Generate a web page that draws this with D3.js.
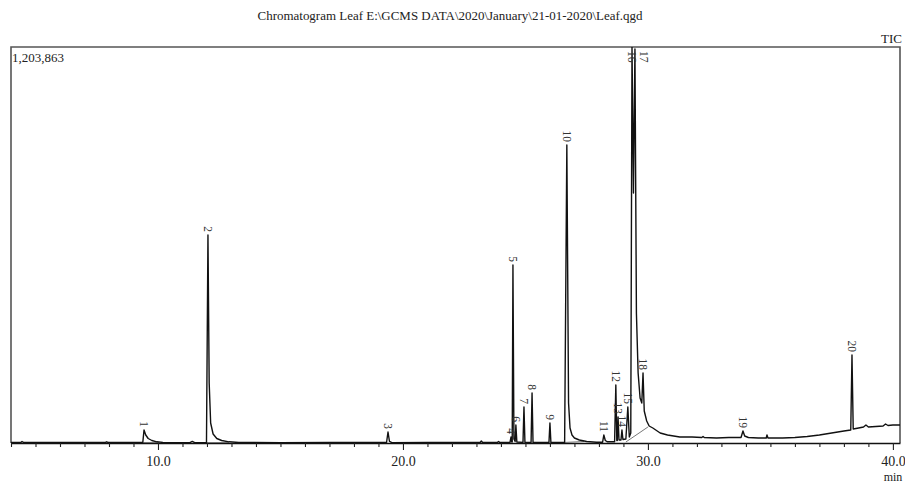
<!DOCTYPE html>
<html>
<head>
<meta charset="utf-8">
<script src="https://cdn.jsdelivr.net/npm/d3@7"></script>
<style>
  html, body { margin: 0; padding: 0; background: #fff; }
  svg { display: block; font-family: "Liberation Serif", "DejaVu Serif", serif; }
</style>
</head>
<body>
<div id="chart"></div>
<script>
// data (signal in thousands of counts)
const titleText = "Chromatogram Leaf E:\\GCMS DATA\\2020\\January\\21-01-2020\\Leaf.qgd";
const maxCounts = 1203863;

const peakNumbers = [1, 2, 3, 4, 5, 6, 7, 8, 9, 10, 11, 12, 13, 14, 15, 16, 17, 18, 19, 20];
const peakTimes = [9.43, 12.04, 19.39, 24.41, 24.49, 24.61, 24.94, 25.27, 26.00, 26.69,
  28.20, 28.69, 28.78, 28.94, 29.18, 29.35, 29.47, 29.80, 33.88, 38.33];
const peakHeights = [39.5, 632.3, 33.4, 18.2, 541.1, 54.7, 109.4, 152.0, 60.8, 905.9,
  24.3, 176.3, 79.0, 39.5, 109.4, 1203.9, 1197.8, 212.8, 36.5, 267.5];

const traceTimes = [4.00, 4.40, 4.45, 4.52, 6.00, 7.85, 7.90, 7.97, 9.38, 9.43, 9.50, 9.60, 9.75, 9.95,
  10.20, 10.60, 11.30, 11.40, 11.50, 11.98, 12.04, 12.09, 12.15, 12.25, 12.40, 12.60, 12.90, 13.30,
  15.00, 17.00, 19.33, 19.39, 19.45, 19.55, 21.00, 23.15, 23.20, 23.25, 23.85, 23.90, 23.95,
  24.37, 24.41, 24.44, 24.46, 24.49, 24.53, 24.58, 24.61, 24.65, 24.90, 24.94, 24.98,
  25.23, 25.27, 25.31, 25.96, 26.00, 26.04, 26.60, 26.69, 26.76, 26.82, 26.90, 27.00, 27.20,
  27.50, 27.90, 28.15, 28.20, 28.26, 28.35, 28.64, 28.69, 28.73, 28.75, 28.78, 28.82,
  28.90, 28.94, 28.98, 29.10, 29.18, 29.24, 29.30, 29.35, 29.41, 29.47, 29.53, 29.60, 29.68,
  29.75, 29.80, 29.85, 29.95, 30.05, 30.20, 30.50, 30.80, 31.30, 31.80, 32.20, 32.25, 32.30,
  32.80, 33.30, 33.80, 33.88, 33.95, 34.10, 34.50, 34.83, 34.86, 34.90, 35.50, 36.00, 36.50,
  37.00, 37.50, 38.00, 38.28, 38.33, 38.38, 38.60, 38.80, 38.90, 39.00, 39.30, 39.60, 39.70,
  39.80, 40.00, 40.29];
const traceSignal = [1.5, 1.5, 4.6, 1.5, 1.5, 1.5, 3.6, 1.5, 1.5, 39.5, 24.3, 13.7, 7.6, 3.6,
  1.8, 1.2, 1.2, 4.6, 1.2, 1.2, 632.3, 182.4, 60.8, 27.4, 13.7, 7.6, 3.6, 1.5,
  1.2, 1.5, 1.5, 33.4, 4.6, 1.2, 1.5, 1.5, 6.1, 1.5, 1.5, 4.6, 1.8,
  1.8, 18.2, 3.0, 3.0, 541.1, 12.2, 4.6, 54.7, 3.0, 1.8, 109.4, 1.8,
  1.8, 152.0, 1.8, 1.5, 60.8, 1.5, 1.8, 905.9, 121.6, 45.6, 24.3, 15.2, 9.1,
  4.6, 2.4, 2.4, 24.3, 7.6, 3.6, 3.6, 176.3, 7.6, 7.6, 79.0, 9.1,
  9.1, 39.5, 10.6, 12.2, 109.4, 18.2, 30.4, 1203.9, 760.0, 1197.8, 395.2, 212.8, 136.8,
  121.6, 212.8, 97.3, 66.9, 51.7, 45.6, 30.4, 24.3, 18.2, 18.2, 16.7, 19.8, 16.7,
  15.2, 16.7, 16.7, 36.5, 21.3, 16.7, 15.2, 15.2, 24.3, 15.2, 15.2, 16.7, 19.8,
  24.3, 30.4, 36.5, 39.5, 267.5, 42.6, 45.6, 48.6, 54.7, 48.6, 50.2, 51.7, 57.8,
  53.2, 54.7, 54.7];

// integration baselines drawn under some peaks: [t1, s1, t2, s2]
const baselineSegments = [
  [9.40, 1.5, 10.05, 1.8],
  [11.99, 1.2, 12.90, 1.5],
  [26.62, 1.8, 27.40, 4.6],
  [29.10, 3.0, 30.00, 48.6]
];

const majorTicks = [10, 20, 30, 40];

//------------------------------------------------------//
// layout
//------------------------------------------------------//
const width = 905, height = 483;
const plot = { left: 11, right: 900, top: 47, bottom: 443 };

const x = d3.scaleLinear().domain([4, 40.29]).range([plot.left, plot.right]);
const y = d3.scaleLinear().domain([0, maxCounts / 1000]).range([plot.bottom, plot.top]);

const svg = d3.select("#chart").append("svg")
  .attr("width", width)
  .attr("height", height);

svg.append("defs").append("clipPath").attr("id", "clip")
  .append("rect")
  .attr("x", plot.left).attr("y", plot.top)
  .attr("width", plot.right - plot.left).attr("height", plot.bottom - plot.top);

// title + corner texts
svg.append("text")
  .attr("x", 450).attr("y", 20)
  .attr("text-anchor", "middle")
  .attr("font-size", 13)
  .attr("textLength", 385)
  .attr("lengthAdjust", "spacingAndGlyphs")
  .attr("fill", "#222")
  .text(titleText);

svg.append("text")
  .attr("x", 902).attr("y", 43)
  .attr("text-anchor", "end")
  .attr("font-size", 13)
  .attr("fill", "#222")
  .text("TIC");

svg.append("text")
  .attr("x", 12).attr("y", 62)
  .attr("font-size", 13)
  .attr("fill", "#222")
  .text(d3.format(",")(maxCounts));

// frame (top, left, right)
svg.append("path")
  .attr("d", `M${plot.left},${plot.bottom} V${plot.top} H${plot.right} V${plot.bottom}`)
  .attr("fill", "none")
  .attr("stroke", "#555")
  .attr("stroke-width", 1.6);

//------------------------------------------------------//
// x axis
//------------------------------------------------------//
const axis = d3.axisBottom(x)
  .tickValues(d3.range(4, 41, 1))
  .tickSize(4)
  .tickSizeOuter(0)
  .tickFormat(d => majorTicks.includes(d) ? d.toFixed(1) : "");

const gx = svg.append("g")
  .attr("transform", `translate(0,${plot.bottom})`)
  .call(axis);

gx.select(".domain").attr("stroke", "#111").attr("stroke-width", 1.4);
gx.selectAll(".tick line").attr("stroke", "#222").attr("stroke-width", 1.1)
  .attr("y2", d => majorTicks.includes(d) ? 7 : 4);
gx.selectAll(".tick text")
  .attr("font-family", "Liberation Serif, serif")
  .attr("font-size", 14)
  .attr("fill", "#222")
  .attr("y", 13);

svg.append("text")
  .attr("x", 893).attr("y", 481)
  .attr("text-anchor", "middle")
  .attr("font-size", 12)
  .attr("fill", "#222")
  .text("min");

//------------------------------------------------------//
// trace
//------------------------------------------------------//
const points = traceTimes.map((t, i) => [t, traceSignal[i]]);
const line = d3.line().x(d => x(d[0])).y(d => y(d[1]));

const g = svg.append("g").attr("clip-path", "url(#clip)");

g.selectAll(".base")
  .data(baselineSegments)
  .join("line")
  .attr("x1", d => x(d[0])).attr("y1", d => y(d[1]))
  .attr("x2", d => x(d[2])).attr("y2", d => y(d[3]))
  .attr("stroke", "#555")
  .attr("stroke-width", 0.8);

g.append("path")
  .datum(points)
  .attr("d", line)
  .attr("fill", "none")
  .attr("stroke", "#111")
  .attr("stroke-width", 1.4)
  .attr("stroke-linejoin", "round");

//------------------------------------------------------//
// peak labels (rotated, reading downwards)
//------------------------------------------------------//
const placed = [];
peakNumbers.forEach((n, i) => {
  let px = x(peakTimes[i]);
  const len = String(n).length * 6.2;
  let end = Math.max(y(peakHeights[i]) - 3, plot.top + 3 + len);
  const start = end - len;
  placed.forEach(p => {
    if (Math.abs(p.x - px) < 6 && start < p.end && end > p.start) px = p.x + 12;
  });
  placed.push({ x: px, start, end });
  svg.append("text")
    .attr("transform", `translate(${px},${end}) rotate(90)`)
    .attr("text-anchor", "end")
    .attr("dominant-baseline", "central")
    .attr("font-size", 11.5)
    .attr("fill", "#333")
    .text(n);
});
</script>
</body>
</html>
